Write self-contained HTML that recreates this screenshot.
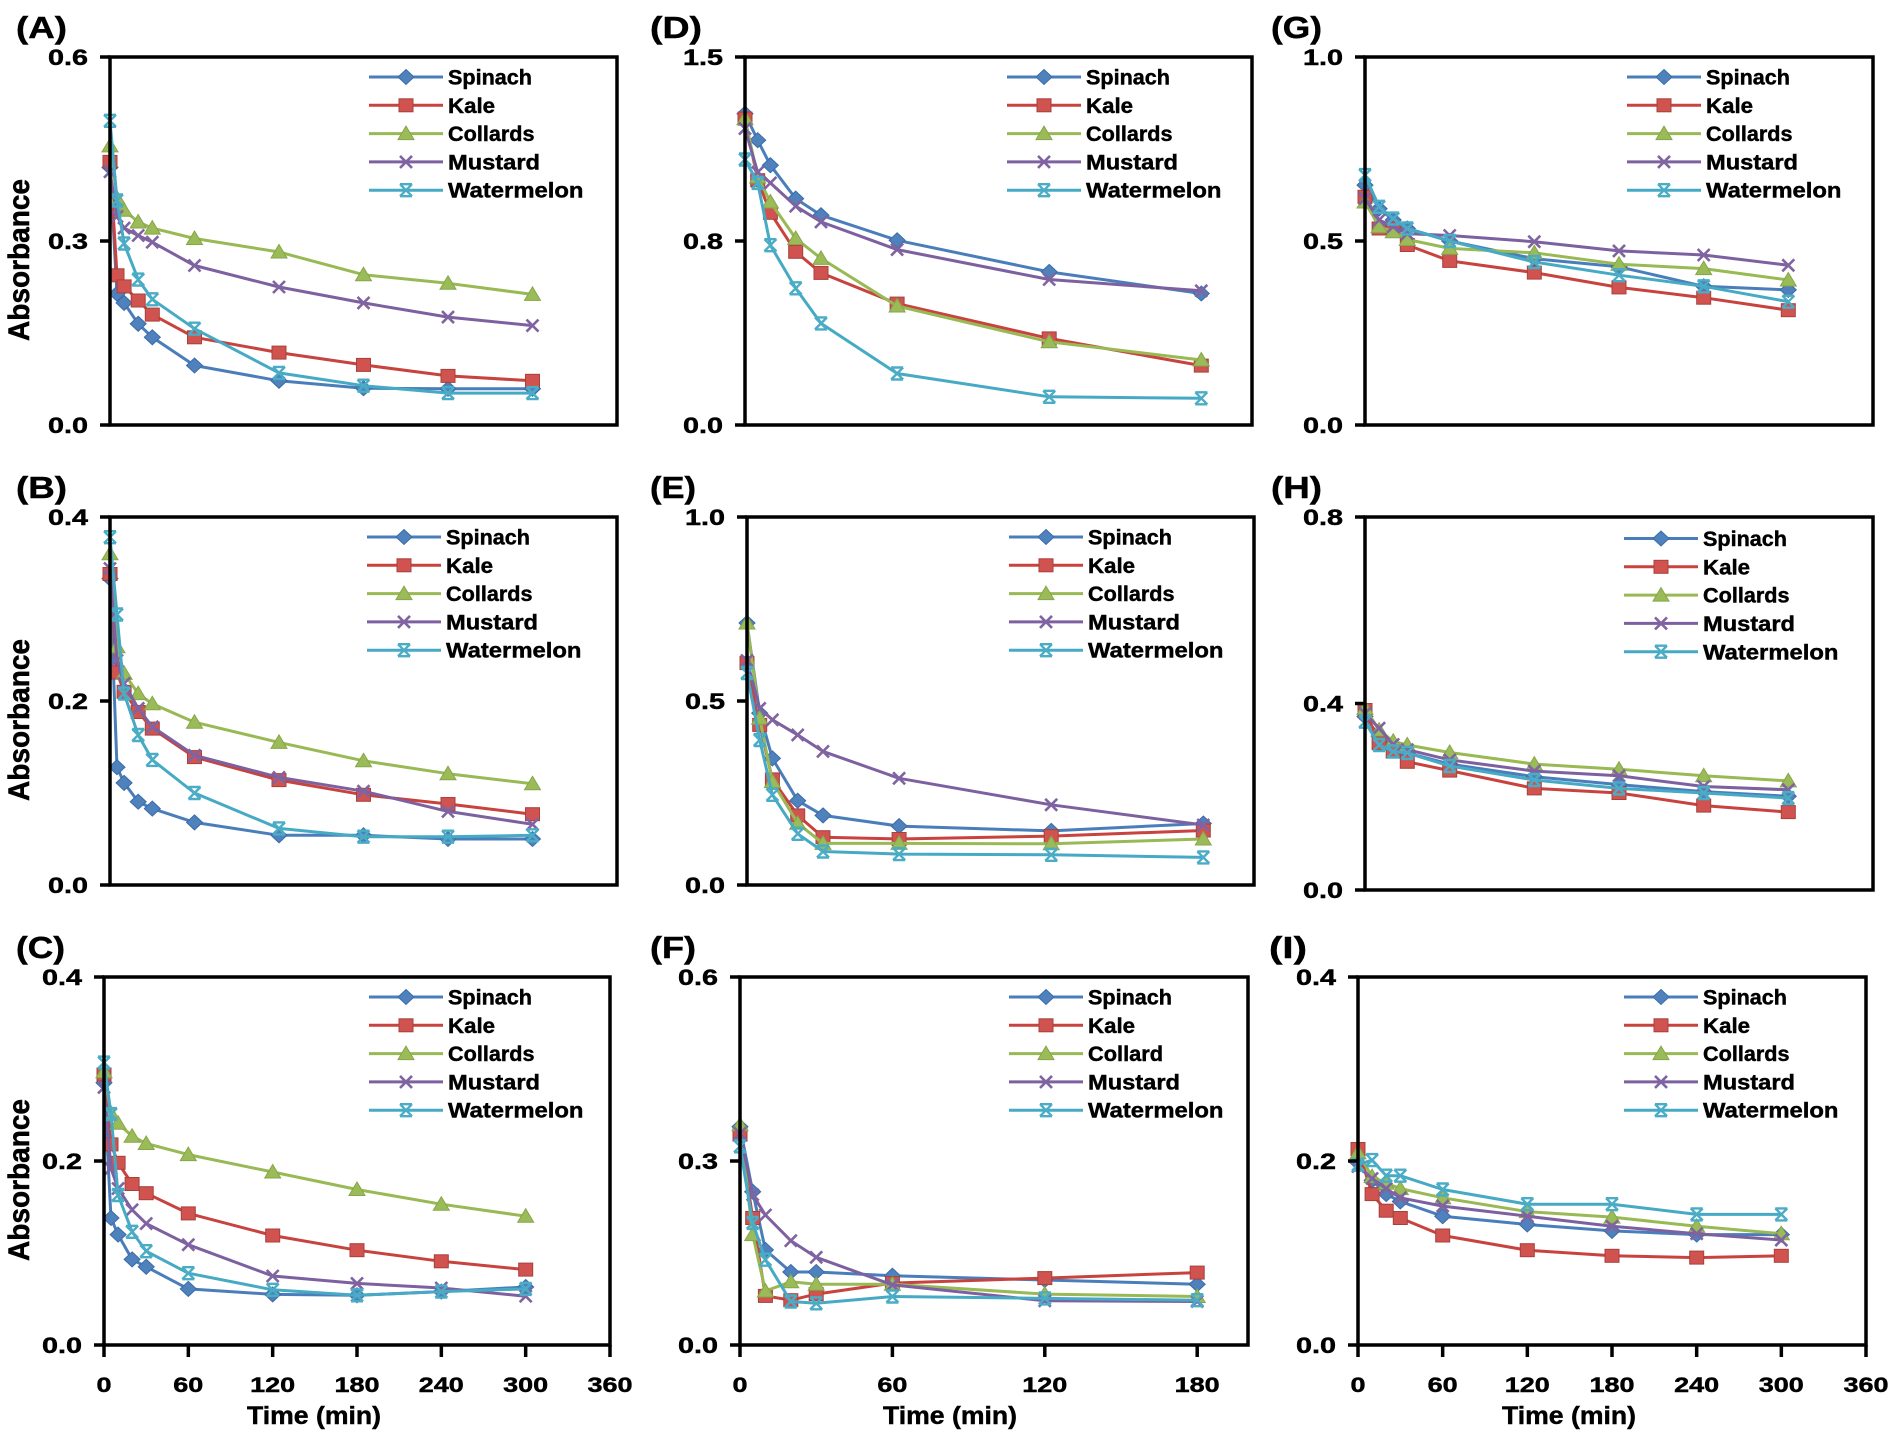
<!DOCTYPE html>
<html><head><meta charset="utf-8"><style>
html,body{margin:0;padding:0;background:#fff;}
svg{display:block;}
text{font-family:"Liberation Sans",Arial,sans-serif;font-weight:bold;fill:#000;stroke:#000;stroke-width:0.45px;}
.tk{font-size:21px;}
.yk{font-size:22px;}
.lg{font-size:21px;}
.pl{font-size:31px;}
.ax{font-size:25px;}
</style></head><body>
<svg id="s" width="1895" height="1437" viewBox="0 0 1895 1437" xmlns="http://www.w3.org/2000/svg">
<rect width="1895" height="1437" fill="#fff"/>
<g id="g"></g>
<!-- panel letters -->
<text class="pl" x="16" y="38" textLength="51" lengthAdjust="spacingAndGlyphs">(A)</text>
<text class="pl" x="16" y="498" textLength="51" lengthAdjust="spacingAndGlyphs">(B)</text>
<text class="pl" x="16" y="958" textLength="49" lengthAdjust="spacingAndGlyphs">(C)</text>
<text class="pl" x="650" y="38" textLength="52" lengthAdjust="spacingAndGlyphs">(D)</text>
<text class="pl" x="650" y="498" textLength="46" lengthAdjust="spacingAndGlyphs">(E)</text>
<text class="pl" x="650" y="958" textLength="46" lengthAdjust="spacingAndGlyphs">(F)</text>
<text class="pl" x="1271" y="38" textLength="51" lengthAdjust="spacingAndGlyphs">(G)</text>
<text class="pl" x="1271" y="498" textLength="51" lengthAdjust="spacingAndGlyphs">(H)</text>
<text class="pl" x="1269" y="958" textLength="38" lengthAdjust="spacingAndGlyphs">(I)</text>
<!-- y tick labels -->
<g class="yk" text-anchor="end">
<text x="88" y="65" textLength="40" lengthAdjust="spacingAndGlyphs">0.6</text>
<text x="88" y="249" textLength="40" lengthAdjust="spacingAndGlyphs">0.3</text>
<text x="88" y="433" textLength="40" lengthAdjust="spacingAndGlyphs">0.0</text>
<text x="88" y="525" textLength="40" lengthAdjust="spacingAndGlyphs">0.4</text>
<text x="88" y="709" textLength="40" lengthAdjust="spacingAndGlyphs">0.2</text>
<text x="88" y="893" textLength="40" lengthAdjust="spacingAndGlyphs">0.0</text>
<text x="82" y="985" textLength="40" lengthAdjust="spacingAndGlyphs">0.4</text>
<text x="82" y="1169" textLength="40" lengthAdjust="spacingAndGlyphs">0.2</text>
<text x="82" y="1353" textLength="40" lengthAdjust="spacingAndGlyphs">0.0</text>
<text x="723" y="65" textLength="40" lengthAdjust="spacingAndGlyphs">1.5</text>
<text x="723" y="249" textLength="40" lengthAdjust="spacingAndGlyphs">0.8</text>
<text x="723" y="433" textLength="40" lengthAdjust="spacingAndGlyphs">0.0</text>
<text x="725" y="525" textLength="40" lengthAdjust="spacingAndGlyphs">1.0</text>
<text x="725" y="709" textLength="40" lengthAdjust="spacingAndGlyphs">0.5</text>
<text x="725" y="893" textLength="40" lengthAdjust="spacingAndGlyphs">0.0</text>
<text x="718" y="985" textLength="40" lengthAdjust="spacingAndGlyphs">0.6</text>
<text x="718" y="1169" textLength="40" lengthAdjust="spacingAndGlyphs">0.3</text>
<text x="718" y="1353" textLength="40" lengthAdjust="spacingAndGlyphs">0.0</text>
<text x="1343" y="65" textLength="40" lengthAdjust="spacingAndGlyphs">1.0</text>
<text x="1343" y="249" textLength="40" lengthAdjust="spacingAndGlyphs">0.5</text>
<text x="1343" y="433" textLength="40" lengthAdjust="spacingAndGlyphs">0.0</text>
<text x="1343" y="525" textLength="40" lengthAdjust="spacingAndGlyphs">0.8</text>
<text x="1343" y="711.5" textLength="40" lengthAdjust="spacingAndGlyphs">0.4</text>
<text x="1343" y="898" textLength="40" lengthAdjust="spacingAndGlyphs">0.0</text>
<text x="1336" y="985" textLength="40" lengthAdjust="spacingAndGlyphs">0.4</text>
<text x="1336" y="1169" textLength="40" lengthAdjust="spacingAndGlyphs">0.2</text>
<text x="1336" y="1353" textLength="40" lengthAdjust="spacingAndGlyphs">0.0</text>
</g>
<!-- x tick labels -->
<g class="tk" text-anchor="middle">
<text x="104" y="1392" textLength="15" lengthAdjust="spacingAndGlyphs">0</text>
<text x="188.3" y="1392" textLength="30" lengthAdjust="spacingAndGlyphs">60</text>
<text x="272.7" y="1392" textLength="45" lengthAdjust="spacingAndGlyphs">120</text>
<text x="357" y="1392" textLength="45" lengthAdjust="spacingAndGlyphs">180</text>
<text x="441.3" y="1392" textLength="45" lengthAdjust="spacingAndGlyphs">240</text>
<text x="525.7" y="1392" textLength="45" lengthAdjust="spacingAndGlyphs">300</text>
<text x="610" y="1392" textLength="45" lengthAdjust="spacingAndGlyphs">360</text>
<text x="740" y="1392" textLength="15" lengthAdjust="spacingAndGlyphs">0</text>
<text x="892.4" y="1392" textLength="30" lengthAdjust="spacingAndGlyphs">60</text>
<text x="1044.8" y="1392" textLength="45" lengthAdjust="spacingAndGlyphs">120</text>
<text x="1197.2" y="1392" textLength="45" lengthAdjust="spacingAndGlyphs">180</text>
<text x="1358" y="1392" textLength="15" lengthAdjust="spacingAndGlyphs">0</text>
<text x="1442.7" y="1392" textLength="30" lengthAdjust="spacingAndGlyphs">60</text>
<text x="1527.3" y="1392" textLength="45" lengthAdjust="spacingAndGlyphs">120</text>
<text x="1612" y="1392" textLength="45" lengthAdjust="spacingAndGlyphs">180</text>
<text x="1696.7" y="1392" textLength="45" lengthAdjust="spacingAndGlyphs">240</text>
<text x="1781.3" y="1392" textLength="45" lengthAdjust="spacingAndGlyphs">300</text>
<text x="1866" y="1392" textLength="45" lengthAdjust="spacingAndGlyphs">360</text>
</g>
<!-- axis titles -->
<g class="ax" text-anchor="middle">
<text x="314" y="1424" textLength="134" lengthAdjust="spacingAndGlyphs">Time (min)</text>
<text x="950" y="1424" textLength="134" lengthAdjust="spacingAndGlyphs">Time (min)</text>
<text x="1569" y="1424" textLength="134" lengthAdjust="spacingAndGlyphs">Time (min)</text>
<text transform="translate(29,260) scale(1.2,1) rotate(-90)" textLength="162" lengthAdjust="spacingAndGlyphs">Absorbance</text>
<text transform="translate(29,720) scale(1.2,1) rotate(-90)" textLength="162" lengthAdjust="spacingAndGlyphs">Absorbance</text>
<text transform="translate(29,1180) scale(1.2,1) rotate(-90)" textLength="162" lengthAdjust="spacingAndGlyphs">Absorbance</text>
</g>
<!-- legend labels -->
<g class="lg">
<text x="448" y="84.5" textLength="84" lengthAdjust="spacingAndGlyphs">Spinach</text>
<text x="448" y="112.8" textLength="47" lengthAdjust="spacingAndGlyphs">Kale</text>
<text x="448" y="141.1" textLength="86.5" lengthAdjust="spacingAndGlyphs">Collards</text>
<text x="448" y="169.4" textLength="92" lengthAdjust="spacingAndGlyphs">Mustard</text>
<text x="448" y="197.7" textLength="135.5" lengthAdjust="spacingAndGlyphs">Watermelon</text>

<text x="446" y="544.5" textLength="84" lengthAdjust="spacingAndGlyphs">Spinach</text>
<text x="446" y="572.8" textLength="47" lengthAdjust="spacingAndGlyphs">Kale</text>
<text x="446" y="601.1" textLength="86.5" lengthAdjust="spacingAndGlyphs">Collards</text>
<text x="446" y="629.4" textLength="92" lengthAdjust="spacingAndGlyphs">Mustard</text>
<text x="446" y="657.7" textLength="135.5" lengthAdjust="spacingAndGlyphs">Watermelon</text>

<text x="448" y="1004.5" textLength="84" lengthAdjust="spacingAndGlyphs">Spinach</text>
<text x="448" y="1032.8" textLength="47" lengthAdjust="spacingAndGlyphs">Kale</text>
<text x="448" y="1061.1" textLength="86.5" lengthAdjust="spacingAndGlyphs">Collards</text>
<text x="448" y="1089.4" textLength="92" lengthAdjust="spacingAndGlyphs">Mustard</text>
<text x="448" y="1117.7" textLength="135.5" lengthAdjust="spacingAndGlyphs">Watermelon</text>

<text x="1086" y="84.5" textLength="84" lengthAdjust="spacingAndGlyphs">Spinach</text>
<text x="1086" y="112.8" textLength="47" lengthAdjust="spacingAndGlyphs">Kale</text>
<text x="1086" y="141.1" textLength="86.5" lengthAdjust="spacingAndGlyphs">Collards</text>
<text x="1086" y="169.4" textLength="92" lengthAdjust="spacingAndGlyphs">Mustard</text>
<text x="1086" y="197.7" textLength="135.5" lengthAdjust="spacingAndGlyphs">Watermelon</text>

<text x="1088" y="544.5" textLength="84" lengthAdjust="spacingAndGlyphs">Spinach</text>
<text x="1088" y="572.8" textLength="47" lengthAdjust="spacingAndGlyphs">Kale</text>
<text x="1088" y="601.1" textLength="86.5" lengthAdjust="spacingAndGlyphs">Collards</text>
<text x="1088" y="629.4" textLength="92" lengthAdjust="spacingAndGlyphs">Mustard</text>
<text x="1088" y="657.7" textLength="135.5" lengthAdjust="spacingAndGlyphs">Watermelon</text>

<text x="1088" y="1004.5" textLength="84" lengthAdjust="spacingAndGlyphs">Spinach</text>
<text x="1088" y="1032.8" textLength="47" lengthAdjust="spacingAndGlyphs">Kale</text>
<text x="1088" y="1061.1" textLength="75" lengthAdjust="spacingAndGlyphs">Collard</text>
<text x="1088" y="1089.4" textLength="92" lengthAdjust="spacingAndGlyphs">Mustard</text>
<text x="1088" y="1117.7" textLength="135.5" lengthAdjust="spacingAndGlyphs">Watermelon</text>

<text x="1706" y="84.5" textLength="84" lengthAdjust="spacingAndGlyphs">Spinach</text>
<text x="1706" y="112.8" textLength="47" lengthAdjust="spacingAndGlyphs">Kale</text>
<text x="1706" y="141.1" textLength="86.5" lengthAdjust="spacingAndGlyphs">Collards</text>
<text x="1706" y="169.4" textLength="92" lengthAdjust="spacingAndGlyphs">Mustard</text>
<text x="1706" y="197.7" textLength="135.5" lengthAdjust="spacingAndGlyphs">Watermelon</text>

<text x="1703" y="546" textLength="84" lengthAdjust="spacingAndGlyphs">Spinach</text>
<text x="1703" y="574.3" textLength="47" lengthAdjust="spacingAndGlyphs">Kale</text>
<text x="1703" y="602.7" textLength="86.5" lengthAdjust="spacingAndGlyphs">Collards</text>
<text x="1703" y="631" textLength="92" lengthAdjust="spacingAndGlyphs">Mustard</text>
<text x="1703" y="659.3" textLength="135.5" lengthAdjust="spacingAndGlyphs">Watermelon</text>

<text x="1703" y="1004.5" textLength="84" lengthAdjust="spacingAndGlyphs">Spinach</text>
<text x="1703" y="1032.8" textLength="47" lengthAdjust="spacingAndGlyphs">Kale</text>
<text x="1703" y="1061.1" textLength="86.5" lengthAdjust="spacingAndGlyphs">Collards</text>
<text x="1703" y="1089.4" textLength="92" lengthAdjust="spacingAndGlyphs">Mustard</text>
<text x="1703" y="1117.7" textLength="135.5" lengthAdjust="spacingAndGlyphs">Watermelon</text>
</g>
</svg>
<script>
(function(){
var T1=[0,5,10,20,30,60,120,180,240,300];
var T2=[0,5,10,20,30,60,120,180];
var TG=[0,10,20,30,60,120,180,240,300];
var P=[
{l:110,r:617,t:57,b:425,xm:360,ym:0.6,T:T1,bot:false,lx:448,ly:84.5,
 d:[[0.42,0.214,0.199,0.165,0.143,0.097,0.072,0.060,0.059,0.059],
    [0.429,0.244,0.226,0.203,0.180,0.143,0.118,0.098,0.080,0.072],
    [0.455,0.37,0.35,0.331,0.321,0.304,0.282,0.245,0.231,0.213],
    [0.413,0.34,0.321,0.309,0.298,0.26,0.225,0.199,0.176,0.162],
    [0.496,0.366,0.296,0.237,0.205,0.157,0.085,0.064,0.052,0.052]]},
{l:110,r:617,t:517,b:885,xm:360,ym:0.4,T:T1,bot:false,lx:446,ly:544.5,
 d:[[0.333,0.128,0.111,0.0905,0.083,0.068,0.054,0.054,0.05,0.05],
    [0.338,0.231,0.21,0.188,0.17,0.139,0.114,0.098,0.088,0.077],
    [0.36,0.259,0.23,0.208,0.197,0.177,0.155,0.135,0.121,0.11],
    [0.344,0.244,0.219,0.192,0.172,0.141,0.117,0.102,0.08,0.066],
    [0.378,0.294,0.208,0.163,0.136,0.1,0.0615,0.0525,0.0525,0.054]]},
{l:104,r:610,t:977,b:1345,xm:360,ym:0.4,T:T1,bot:true,lx:448,ly:1004.5,ticks:[0,60,120,180,240,300,360],
 d:[[0.285,0.138,0.12,0.093,0.085,0.061,0.055,0.054,0.058,0.063],
    [0.294,0.218,0.198,0.175,0.165,0.143,0.119,0.103,0.091,0.082],
    [0.297,0.252,0.241,0.227,0.219,0.207,0.188,0.169,0.153,0.14],
    [0.28,0.192,0.17,0.147,0.132,0.109,0.075,0.067,0.062,0.053],
    [0.307,0.251,0.163,0.123,0.102,0.078,0.06,0.054,0.058,0.061]]},
{l:745,r:1252,t:57,b:425,xm:200,ym:1.5,T:T2,bot:false,lx:1086,ly:84.5,
 d:[[1.269,1.161,1.059,0.923,0.855,0.753,0.624,0.536],
    [1.249,0.998,0.865,0.706,0.620,0.495,0.353,0.242],
    [1.249,1.011,0.909,0.760,0.679,0.485,0.339,0.265],
    [1.208,1.03,0.987,0.892,0.828,0.715,0.593,0.547],
    [1.082,0.987,0.733,0.557,0.414,0.210,0.115,0.109]]},
{l:747,r:1254,t:517,b:885,xm:200,ym:1.0,T:T2,bot:false,lx:1088,ly:544.5,
 d:[[0.712,0.467,0.344,0.229,0.189,0.160,0.147,0.167],
    [0.603,0.435,0.287,0.189,0.130,0.125,0.133,0.148],
    [0.712,0.453,0.281,0.168,0.113,0.113,0.112,0.125],
    [0.61,0.48,0.449,0.408,0.363,0.29,0.218,0.163],
    [0.576,0.394,0.245,0.139,0.091,0.084,0.082,0.075]]},
{l:740,r:1248,t:977,b:1345,xm:200,ym:0.6,T:T2,bot:true,lx:1088,ly:1004.5,ticks:[0,60,120,180],
 d:[[0.356,0.25,0.155,0.119,0.119,0.113,0.106,0.099],
    [0.343,0.207,0.080,0.073,0.083,0.101,0.109,0.118],
    [0.359,0.18,0.088,0.103,0.099,0.099,0.083,0.079],
    [0.345,0.245,0.212,0.17,0.143,0.098,0.072,0.071],
    [0.324,0.199,0.139,0.071,0.068,0.079,0.076,0.073]]},
{l:1365,r:1873,t:57,b:425,xm:360,ym:1.0,T:TG,bot:false,lx:1706,ly:84.5,
 d:[[0.652,0.588,0.557,0.534,0.50,0.452,0.43,0.377,0.367],
    [0.62,0.534,0.534,0.489,0.446,0.414,0.374,0.346,0.312],
    [0.606,0.539,0.525,0.504,0.48,0.468,0.437,0.425,0.394],
    [0.615,0.557,0.539,0.52,0.515,0.498,0.473,0.462,0.434],
    [0.679,0.593,0.561,0.534,0.50,0.443,0.407,0.377,0.335]]},
{l:1365,r:1873,t:517,b:890,xm:360,ym:0.8,T:TG,bot:false,lx:1703,ly:546,
 d:[[0.372,0.33,0.307,0.294,0.27,0.243,0.226,0.211,0.201],
    [0.386,0.315,0.297,0.275,0.256,0.218,0.208,0.181,0.167],
    [0.39,0.343,0.319,0.311,0.295,0.270,0.259,0.245,0.234],
    [0.379,0.347,0.312,0.301,0.279,0.255,0.245,0.222,0.215],
    [0.361,0.311,0.297,0.294,0.266,0.236,0.218,0.208,0.197]]},
{l:1358,r:1866,t:977,b:1345,xm:360,ym:0.4,T:TG,bot:true,lx:1703,ly:1004.5,ticks:[0,60,120,180,240,300,360],
 d:[[0.198,0.179,0.164,0.156,0.14,0.131,0.124,0.12,0.12],
    [0.213,0.164,0.146,0.138,0.119,0.103,0.097,0.095,0.097],
    [0.209,0.183,0.176,0.17,0.16,0.145,0.139,0.129,0.121],
    [0.194,0.181,0.17,0.16,0.151,0.14,0.129,0.121,0.114],
    [0.196,0.201,0.184,0.184,0.169,0.153,0.153,0.142,0.142]]}
];
var LC=['#4A7EBB','#C8423E','#98B954','#7D60A0','#46AAC5'];
function mk(k,x,y){
  x=+x.toFixed(1);y=+y.toFixed(1);
  if(k===0) return '<polygon points="'+x+','+(y-7.5)+' '+(x+8)+','+y+' '+x+','+(y+7.5)+' '+(x-8)+','+y+'" fill="#4F81BD" stroke="#3B6CA6" stroke-width="1"/>';
  if(k===1) return '<rect x="'+(x-7)+'" y="'+(y-6.5)+'" width="14" height="13" fill="#D0534F" stroke="#A8403C" stroke-width="1"/>';
  if(k===2) return '<polygon points="'+x+','+(y-7.5)+' '+(x+8)+','+(y+6)+' '+(x-8)+','+(y+6)+'" fill="#9BBB59" stroke="#86A64A" stroke-width="1"/>';
  if(k===3) return '<path d="M'+(x-6)+' '+(y-6)+'L'+(x+6)+' '+(y+6)+'M'+(x-6)+' '+(y+6)+'L'+(x+6)+' '+(y-6)+'" stroke="#8064A2" stroke-width="2.6" fill="none"/>';
  return '<path d="M'+(x-6)+' '+(y-6)+'L'+(x+6)+' '+(y+6)+'M'+(x-6)+' '+(y+6)+'L'+(x+6)+' '+(y-6)+'M'+(x-6)+' '+(y-6)+'L'+(x+6)+' '+(y-6)+'M'+(x-6)+' '+(y+6)+'L'+(x+6)+' '+(y+6)+'" stroke="#4BACC6" stroke-width="2.4" fill="none"/>';
}
var h='';
P.forEach(function(p){
  var sx=function(t){return p.l+(p.r-p.l)*t/p.xm;};
  var sy=function(v){return p.b-(p.b-p.t)*v/p.ym;};
  for(var k=0;k<5;k++){
    var pts=p.d[k].map(function(v,i){return sx(p.T[i]).toFixed(1)+','+sy(v).toFixed(1);}).join(' ');
    h+='<polyline points="'+pts+'" fill="none" stroke="'+LC[k]+'" stroke-width="3" stroke-linejoin="round"/>';
    for(var i=0;i<p.d[k].length;i++) h+=mk(k,sx(p.T[i]),sy(p.d[k][i]));
  }
  for(var k2=0;k2<5;k2++){
    var yy=p.ly+k2*28.3-7.5;
    var x1=p.lx-79,x2=p.lx-5;
    h+='<line x1="'+x1+'" y1="'+yy+'" x2="'+x2+'" y2="'+yy+'" stroke="'+LC[k2]+'" stroke-width="3"/>';
    h+=mk(k2,(x1+x2)/2,yy);
  }
  h+='<rect x="'+p.l+'" y="'+p.t+'" width="'+(p.r-p.l)+'" height="'+(p.b-p.t)+'" fill="none" stroke="#000" stroke-width="3.5"/>';
  var ym=(p.t+p.b)/2;
  [p.t,ym,p.b].forEach(function(y){h+='<line x1="'+(p.l-10)+'" y1="'+y+'" x2="'+p.l+'" y2="'+y+'" stroke="#000" stroke-width="3.5"/>';});
  if(p.bot){
    p.ticks.forEach(function(t){var x=sx(t);h+='<line x1="'+x+'" y1="'+p.b+'" x2="'+x+'" y2="'+(p.b+12)+'" stroke="#000" stroke-width="3.5"/>';});
  }
});
document.getElementById('g').innerHTML=h;
})();
</script>
</body></html>
